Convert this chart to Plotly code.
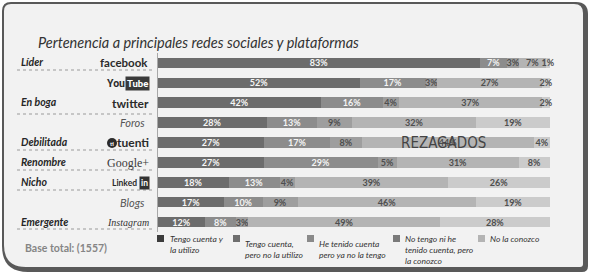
import plotly.graph_objects as go

W, H = 589, 274

# ---------------- data ----------------
platforms = ["facebook", "YouTube", "twitter", "Foros", "tuenti", "Google+", "LinkedIn", "Blogs", "Instagram"]
series_names = [
    "Tengo cuenta y<br>la utilizo",
    "Tengo cuenta,<br>pero no la utilizo",
    "He tenido cuenta<br>pero ya no la tengo",
    "No tengo ni he<br>tenido cuenta, pero<br>la conozco",
    "No la conozco",
]
tengo_utilizo = [83, 52, 42, 28, 27, 27, 18, 17, 12]
tengo_no_utilizo = [7, 17, 16, 13, 17, 29, 13, 10, 8]
tenido_ya_no = [3, 3, 4, 9, 8, 5, 4, 9, 3]
no_tengo_conozco = [7, 27, 37, 32, 44, 31, 39, 46, 49]
no_conozco = [1, 2, 2, 19, 4, 8, 26, 19, 28]
series_values = [tengo_utilizo, tengo_no_utilizo, tenido_ya_no, no_tengo_conozco, no_conozco]

group_labels = ["Líder", "", "En boga", "", "Debilitada", "Renombre", "Nicho", "", "Emergente"]

bar_colors = ["#6c6c6c", "#8c8c8c", "#9e9e9e", "#b4b4b4", "#cbcbcb"]
legend_colors = ["#3c3c3c", "#6e6e6e", "#8a8a8a", "#7a7a7a", "#b4b4b4"]
text_colors = ["#f6f6f6", "#f4f4f4", "#4e4e4e", "#4e4e4e", "#4e4e4e"]


def px(x):
    return x / W


def py(y):
    return 1 - y / H


fig = go.Figure()
for name, vals, col, tcol in zip(series_names, series_values, bar_colors, text_colors):
    fig.add_trace(go.Bar(
        y=platforms, x=vals, orientation="h", name=name,
        marker=dict(color=col, line=dict(width=0)),
        text=[f"{v}%" for v in vals], texttemplate="%{text}",
        textposition="inside", insidetextanchor="middle", constraintext="none", textangle=0,
        textfont=dict(family="Lato", size=9, color=tcol, weight="bold"),
        cliponaxis=False, showlegend=False, hoverinfo="skip",
    ))

# plot area geometry (pixels)
PX0, PX1 = 158, 550
PY0, PY1 = 53, 232

fig.update_layout(
    width=W, height=H, margin=dict(l=0, r=0, t=0, b=0),
    paper_bgcolor="white", plot_bgcolor="rgba(0,0,0,0)",
    barmode="stack", barnorm="percent", bargap=0.47,
    xaxis=dict(domain=[px(PX0), px(PX1)], range=[0, 100], visible=False, fixedrange=True),
    yaxis=dict(domain=[py(PY1), py(PY0)], autorange="reversed", type="category",
               showticklabels=False, showgrid=False, zeroline=False,
               showline=True, linecolor="#a8a8a8", linewidth=1, ticks=""),
    font=dict(family="Lato"),
)


def rounded_path(x0, y0, x1, y1, rtl, rtr, rbr, rbl):
    P = lambda x, y: f"{px(x):.5f},{py(y):.5f}"
    return (f"M {P(x0 + rtl, y0)} L {P(x1 - rtr, y0)} Q {P(x1, y0)} {P(x1, y0 + rtr)} "
            f"L {P(x1, y1 - rbr)} Q {P(x1, y1)} {P(x1 - rbr, y1)} "
            f"L {P(x0 + rbl, y1)} Q {P(x0, y1)} {P(x0, y1 - rbl)} "
            f"L {P(x0, y0 + rtl)} Q {P(x0, y0)} {P(x0 + rtl, y0)} Z")


shapes = [
    dict(type="path", xref="paper", yref="paper", layer="below",
         path=rounded_path(2, 2, 588, 272, 9, 12, 6, 26),
         fillcolor="#595959", line=dict(width=0)),
    dict(type="path", xref="paper", yref="paper", layer="below",
         path=rounded_path(4, 4, 583, 267, 7, 9, 3, 22),
         fillcolor="#f2f2f2", line=dict(width=0)),
]

# dotted separators
for ysep in [70, 114, 150, 170, 190, 229]:
    shapes.append(dict(type="line", xref="paper", yref="paper",
                       x0=px(17), x1=px(153), y0=py(ysep), y1=py(ysep),
                       line=dict(color="#9a9a9a", width=1, dash="dot")))

annotations = []


def ann(text, x, y, size, color="#333333", xanchor="left", yanchor="middle", family="Lato", **kw):
    annotations.append(dict(text=text, x=px(x), y=py(y), xref="paper", yref="paper",
                            xanchor=xanchor, yanchor=yanchor, showarrow=False,
                            font=dict(family=family, size=size, color=color), **kw))


# title
ann("<i>Pertenencia a principales redes sociales y plataformas</i>", 36, 43, 14.5, "#333333")

# group labels
row_y = [63, 83.5, 103.5, 123.5, 143, 163, 183, 203, 222.5]
for lab, yy in zip(group_labels, row_y):
    if lab:
        ann(f"<b><i>{lab}</i></b>", 19, yy - 1, 10.5, "#262626")

# platform "logos" as text
ann("<b>facebook</b>", 150, 62, 11.5, "#2b2b2b", xanchor="right", family="Lato")
ann("<b>Tube</b>", 150, 83.5, 9.5, "white", xanchor="right", family="Roboto",
    bgcolor="#3a3a3a", borderpad=1)
ann("<b>You</b>", 127, 83.5, 10.5, "#2b2b2b", xanchor="right", family="Roboto")
ann("<b>twitter</b>", 151, 103.5, 12, "#2b2b2b", xanchor="right", family="Lato")
ann("<i>Foros</i>", 147, 123, 11, "#555555", xanchor="right", family="Lato")
ann("<b>tuenti</b>", 151, 142.5, 12, "#2b2b2b", xanchor="right", family="Lato")
shapes.append(dict(type="circle", xref="paper", yref="paper",
                   x0=px(107), x1=px(117), y0=py(148), y1=py(138),
                   fillcolor="#2b2b2b", line=dict(width=0)))
ann("<b>ti</b>", 112, 143, 6, "white", xanchor="center", family="Lato")
ann("Google+", 151, 162.5, 12, "#3a3a3a", xanchor="right", family="Liberation Serif")
ann("<b>in</b>", 150, 182.5, 8.5, "white", xanchor="right", family="Lato",
    bgcolor="#333333", borderpad=1)
ann("<b>Linked</b>", 139, 183, 8.5, "#2b2b2b", xanchor="right", family="Lato")
ann("<i>Blogs</i>", 147, 202.5, 11, "#555555", xanchor="right", family="Lato")
ann("<i>Instagram</i>", 151, 222, 10, "#333333", xanchor="right", family="Liberation Serif")

# overlay label
ann("REZAGADOS", 443, 142.5, 15, "#444444", xanchor="center",
    family="DejaVu Sans Condensed, Roboto Condensed, Roboto")

# base total
ann("<b>Base total: (1557)</b>", 23, 248, 10.5, "#858585", family="Lato")

# legend (manual)
leg_marker_x = [157, 233, 307, 393, 478]
leg_marker_y = [235, 235, 235, 235, 235]
leg_text_x = [168, 243, 317, 403, 488]
leg_text_top = [232, 237, 237, 232, 232]
for name, col, mx, my, tx, tt in zip(series_names, legend_colors, leg_marker_x, leg_marker_y,
                                     leg_text_x, leg_text_top):
    shapes.append(dict(type="rect", xref="paper", yref="paper",
                       x0=px(mx), x1=px(mx + 7), y0=py(my + 7), y1=py(my),
                       fillcolor=col, line=dict(width=0)))
    ann(f"<i>{name}</i>", tx, tt, 8.5, "#333333", yanchor="top", align="left")

fig.update_layout(shapes=shapes, annotations=annotations)
fig.write_html("out.html")
